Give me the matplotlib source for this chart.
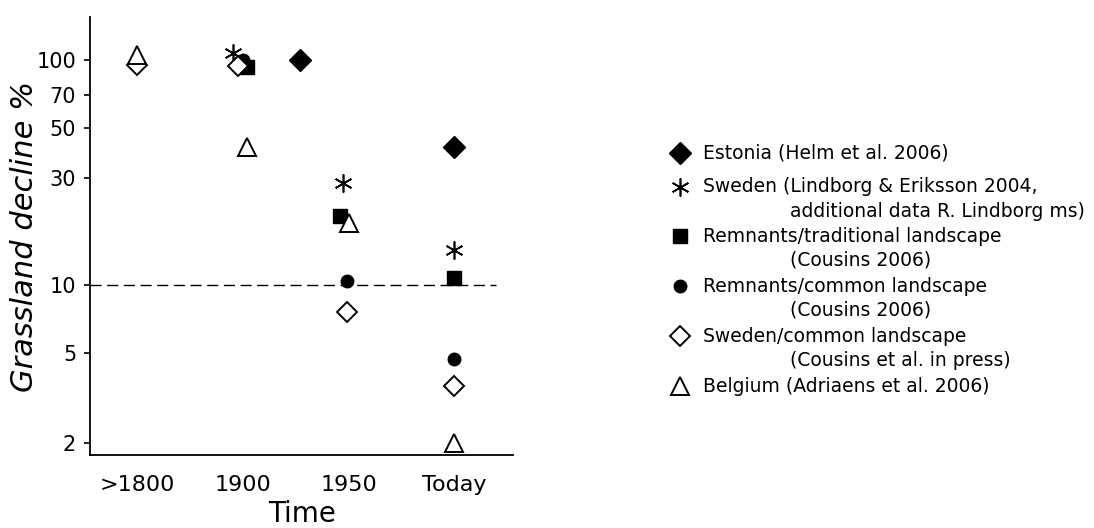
import numpy as np
import matplotlib.pyplot as plt

# categories on the x axis
periods = [">1800", "1900", "1950", "Today"]

# series values (x = position on the category axis, y = % remaining)
estonia_x = [1.54, 3.0]
estonia_y = [100, 41]
sweden_x = [0.91, 1.95, 3.0]
sweden_y = [107, 28.5, 14.4]
trad_x = [1.04, 1.92, 3.0]
trad_y = [93, 20.3, 10.8]
common_x = [1.0, 1.99, 3.0]
common_y = [100, 10.5, 4.7]
swcommon_x = [0.0, 0.95, 1.99, 3.0]
swcommon_y = [95, 94, 7.6, 3.6]
belgium_x = [0.0, 1.04, 2.0, 3.0]
belgium_y = [105, 41, 19, 2]

yticks = [2, 5, 10, 30, 50, 70, 100]

legend_lines = [
    ("Estonia (Helm et al. 2006)", None),
    ("Sweden (Lindborg & Eriksson 2004,", "additional data R. Lindborg ms)"),
    ("Remnants/traditional landscape", "(Cousins 2006)"),
    ("Remnants/common landscape", "(Cousins 2006)"),
    ("Sweden/common landscape", "(Cousins et al. in press)"),
    ("Belgium (Adriaens et al. 2006)", None),
]

plt.rcParams['font.family'] = ['DejaVu Sans']

styles = [
    dict(marker='D', ms=11, mfc='black', mec='black'),
    dict(marker=(6, 2, 0), ms=13, mfc='black', mec='black', mew=1.2),
    dict(marker='s', ms=9.5, mfc='black', mec='black'),
    dict(marker='o', ms=9, mfc='black', mec='black'),
    dict(marker='D', ms=10, mfc='white', mec='black', mew=1.4),
    dict(marker='^', ms=13, mfc='white', mec='black', mew=1.4),
]
series = [(estonia_x, estonia_y), (sweden_x, sweden_y), (trad_x, trad_y),
          (common_x, common_y), (swcommon_x, swcommon_y), (belgium_x, belgium_y)]

fig = plt.figure(figsize=(10.94, 5.28), dpi=100)
ax = fig.add_axes([0.0823, 0.138, 0.387, 0.83])

ax.axhline(10, xmin=0, xmax=0.96, color='black', lw=1.0, dashes=(8, 4), zorder=1)
for (xs, ys), st in zip(series, styles):
    ax.plot(xs, ys, ls='none', zorder=3, **st)

ax.set_yscale('log')
ax.set_ylim(1.77, 155)
ax.set_xlim(-0.445, 3.56)
ax.set_yticks(yticks)
ax.set_yticklabels([str(t) for t in yticks])
ax.minorticks_off()
ax.set_xticks(range(len(periods)))
ax.set_xticklabels(periods)
ax.tick_params(axis='x', length=0, pad=14, labelsize=16)
ax.tick_params(axis='y', length=4, width=1.2, pad=6, labelsize=15)
for side in ['top', 'right']:
    ax.spines[side].set_visible(False)
for side in ['left', 'bottom']:
    ax.spines[side].set_linewidth(1.3)

ax.set_ylabel("Grassland decline %", fontsize=22, style='italic')
ax.yaxis.set_label_coords(-0.12, 0.5)
ax.set_xlabel("Time", fontsize=20, labelpad=4)

# legend drawn at the right side of the figure
lax = fig.add_axes([0, 0, 1, 1])
lax.set_xlim(0, 1094)
lax.set_ylim(528, 0)
lax.axis('off')
rows_y = [153, 187, 236, 286, 336, 386]
for (first, second), st, ry in zip(legend_lines, styles, rows_y):
    lax.plot([680], [ry], ls='none', **st)
    lax.text(703, ry, first, fontsize=13.5, va='center', ha='left')
    if second:
        lax.text(790, ry + 24.5, second, fontsize=13.5, va='center', ha='left')

fig.savefig("out.png", dpi=100)
